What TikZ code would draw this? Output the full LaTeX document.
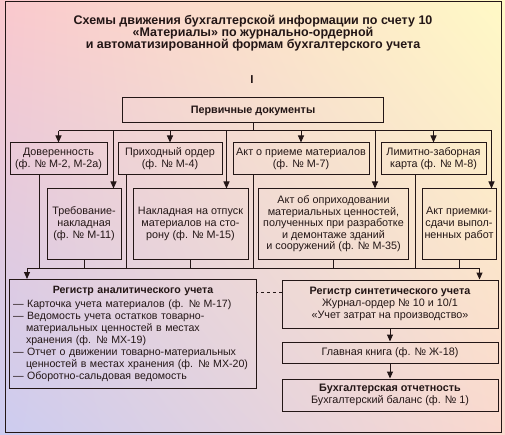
\documentclass[tikz,border=0pt]{standalone}
\usepackage{fontspec}
\setmainfont{Liberation Sans}
\usetikzlibrary{arrows.meta, positioning, calc, shadings}
\usepackage{xcolor}
\definecolor{ink}{RGB}{35,22,22}
\definecolor{bgtl}{RGB}{250,200,205}
\definecolor{bgtr}{RGB}{255,250,198}
\definecolor{bgbl}{RGB}{204,204,240}
\definecolor{bgbr}{RGB}{250,216,206}
\newcommand{\dsh}{\hspace*{13pt}}

\begin{document}
\begin{tikzpicture}[x=1pt, y=-1pt,
  box/.style={draw=ink, line width=1pt, align=center, inner sep=1.5pt,
              text=ink, font=\fontsize{10.8}{12}\selectfont},
  ln/.style={line width=1pt, ink},
  arr/.style={-{Triangle[length=7pt,width=6pt]}, line width=1pt, ink}
]
\shade[upper left=bgtl, upper right=bgtr, lower left=bgbl, lower right=bgbr] (0,0) rectangle (505,435);
\useasboundingbox (0,0) rectangle (505,435);
\draw[ln] (5,2) rectangle (501,432);

% title
\node[align=center, text=ink, font=\fontsize{12.5}{12}\selectfont\bfseries] (title) at (253,33)
  {Схемы движения бухгалтерской информации по счету 10\\«Материалы» по журнально-ордерной\\и автоматизированной формам бухгалтерского учета};
\node[text=ink, font=\fontsize{11.5}{12}\selectfont\bfseries] (num) at (252,80) {I};

% primary documents
\node[box, minimum width=261pt, minimum height=25pt, font=\fontsize{10.8}{12}\selectfont\bfseries] (prim) at (253,110.5) {Первичные документы};

\node[box, minimum width=97pt,  minimum height=32pt] (dov)  at (58.5,159)  {Доверенность\\(ф. № М-2, М-2а)};
\node[box, minimum width=104pt, minimum height=32pt] (prih) at (170,159)   {Приходный ордер\\(ф. № М-4)};
\node[box, minimum width=136pt, minimum height=32pt] (akt7) at (301,159)   {Акт о приеме материалов\\(ф. № М-7)};
\node[box, minimum width=105pt, minimum height=32pt] (lim)  at (433.5,159) {Лимитно-заборная\\карта (ф. № М-8)};

\node[box, minimum width=74pt,  minimum height=70pt] (treb)  at (84,224)    {Требование-\\накладная\\(ф. № М-11)};
\node[box, minimum width=115pt, minimum height=70pt] (nakl)  at (190.5,224) {Накладная на отпуск\\материалов на сто-\\рону (ф. № М-15)};
\node[box, minimum width=150pt, minimum height=70pt, font=\fontsize{10.8}{11.5}\selectfont] (akt35) at (333.5,224)
  {Акт об оприходовании\\материальных ценностей,\\полученных при разработке\\и демонтаже зданий\\и сооружений (ф. № М-35)};
\node[box, minimum width=74pt,  minimum height=70pt] (aktpr) at (459,224)   {Акт приемки-\\сдачи выпол-\\ненных работ};

% registers
\node[box, anchor=north west, align=left, text width=240pt, inner sep=3.5pt, minimum height=109pt,
      font=\fontsize{10.6}{12}\selectfont] (ana) at (9,279)
  {\makebox[240pt][c]{\bfseries Регистр аналитического учета}\\[2pt]
   \mbox{--- Карточка учета материалов (ф. № М-17)}\\
   \mbox{--- Ведомость учета остатков товарно-}\\
   \mbox{\dsh материальных ценностей в местах}\\
   \mbox{\dsh хранения (ф. № МХ-19)}\\
   \mbox{--- Отчет о движении товарно-материальных}\\
   \mbox{\dsh ценностей в местах хранения (ф. № МХ-20)}\\
   \mbox{--- Оборотно-сальдовая ведомость}};
\node[box, minimum width=216pt, minimum height=48pt] (syn) at (390,304)
  {\textbf{Регистр синтетического учета}\\Журнал-ордер № 10 и 10/1\\«Учет затрат на производство»};
\node[box, minimum width=216pt, minimum height=21pt] (glav) at (390,352.5) {Главная книга (ф. № Ж-18)};
\node[box, minimum width=216pt, minimum height=32pt] (otch) at (390,395)
  {\textbf{Бухгалтерская отчетность}\\Бухгалтерский баланс (ф. № 1)};

% buses
\coordinate (top) at (253,131);
\coordinate (low) at (253,268);
\coordinate (tr) at ($(treb.north east)+(-8,0)$);
\coordinate (nk) at ($(nakl.north east)+(-22,0)$);
\coordinate (ak) at ($(akt35.north east)+(-34,0)$);
\coordinate (ap) at ($(aktpr.north east)+(-5,0)$);
\coordinate (la) at ($(ana.north west)+(18,0)$);
\coordinate (ra) at ($(syn.north east)+(-19,0)$);

\draw[ln] (prim.south) -- (top);
\draw[ln] (dov.north |- top) -- (ap |- top);
\foreach \n in {dov,prih,akt7,lim}
  \draw[arr] (\n.north |- top) -- (\n.north);
\foreach \c in {tr,nk,ak,ap}
  \draw[arr] (\c |- top) -- (\c);

\coordinate (d1) at ($(dov.south west)+(30,0)$);
\coordinate (d2) at ($(prih.south west)+(9,0)$);
\coordinate (d3) at ($(akt7.south west)+(21,0)$);
\coordinate (d4) at ($(lim.south west)+(35,0)$);
\foreach \c in {d1,d2,d3,d4,treb.south,nakl.south,akt35.south,aktpr.south}
  \draw[ln] (\c) -- (\c |- low);
\draw[ln] (la |- low) -- (ra |- low);
\draw[arr] (la |- low) -- (la);
\draw[arr] (ra |- low) -- (ra);

\draw[arr] (syn.south) -- (glav.north);
\draw[arr] (glav.south) -- (otch.north);
\draw[ln, dashed] ([yshift=12pt]syn.west) -- ([yshift=12pt]syn.west -| ana.east);
\end{tikzpicture}
\end{document}
